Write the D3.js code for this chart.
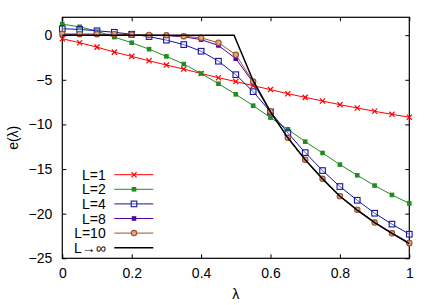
<!DOCTYPE html>
<html>
<head>
<meta charset="utf-8">
<script src="https://cdn.jsdelivr.net/npm/d3@7"></script>
<style>
  body { margin: 0; background: #fff; }
  text { font-family: "Liberation Sans", Arial, sans-serif; }
</style>
</head>
<body>
<svg id="chart" width="436" height="305"></svg>
<script>
// lambda grid, values
var lambdas = [0,0.05,0.1,0.15,0.2,0.25,0.3,0.35,0.4,0.45,0.5,0.55,0.6,0.65,0.7,0.75,0.8,0.85,0.9,0.95,1];
var eL1 = [-0.4,-0.85,-1.34,-1.9,-2.38,-2.87,-3.35,-3.8,-4.3,-4.77,-5.2,-5.66,-6.1,-6.56,-6.97,-7.38,-7.79,-8.16,-8.53,-8.87,-9.2];
var eL2 = [1.23,0.94,0.45,-0.22,-0.85,-1.57,-2.38,-3.24,-4.3,-5.44,-6.63,-7.9,-9.24,-10.55,-11.93,-13.2,-14.5,-15.7,-16.85,-17.9,-18.85];
var eL4 = [0.72,0.64,0.49,0.32,0.1,-0.16,-0.56,-1.06,-1.8,-2.92,-4.43,-6.33,-8.6,-10.95,-13.16,-15.17,-16.96,-18.5,-19.95,-21.17,-22.3];
var eL8 = [0.05,0.04,0.03,0.02,0.0,-0.02,-0.06,-0.18,-0.5,-1.15,-2.64,-5.3,-8.65,-11.5,-13.95,-16.1,-18.0,-19.55,-20.95,-22.15,-23.25];
var eL10 = [0.15,0.14,0.12,0.1,0.06,0.02,-0.02,-0.12,-0.3,-0.85,-2.2,-5.2,-8.55,-11.5,-13.95,-16.1,-18.05,-19.55,-21.0,-22.2,-23.3];
// L -> infinity curve (no markers)
var lambdaInf = [0,0.495,0.55,0.6,0.65,0.7,0.75,0.8,0.85,0.9,0.95,1];
var eInf = [0,0,-5.1,-8.6,-11.5,-13.95,-16.1,-18.05,-19.6,-21.0,-22.2,-23.35];

var xTicks = [0,0.2,0.4,0.6,0.8,1];
var yTicks = [0,-5,-10,-15,-20,-25];

var series = [
	{name:"L=1", color:"#ff0000", mark:"cross", x:lambdas, y:eL1},
	{name:"L=2", color:"#228b22", mark:"fsquare", x:lambdas, y:eL2},
	{name:"L=4", color:"#1414a0", mark:"osquare", x:lambdas, y:eL4},
	{name:"L=8", color:"#5400a0", mark:"fsquare", x:lambdas, y:eL8},
	{name:"L=10", color:"#a0522d", mark:"ocircle", x:lambdas, y:eL10},
	{name:"L\u2192\u221e", color:"#000000", mark:null, x:lambdaInf, y:eInf}
];

var margin = {l:62.3, r:26.7, t:17.3, b:46.7};
var width = 436, height = 305;
var fontSize = 14;

var svg = d3.select("#chart");

var x = d3.scaleLinear().domain([0,1]).range([margin.l, width - margin.r]);
var y = d3.scaleLinear().domain([-25,2]).range([height - margin.b, margin.t]);

// ticks on all four sides, pointing in
var tickLen = 4;
svg.append("g")
	.attr("transform", "translate(0," + (height - margin.b) + ")")
	.call(d3.axisBottom(x).tickValues(xTicks).tickSize(-tickLen).tickPadding(10)
		.tickFormat(function(d){ return d === 0 || d === 1 ? d3.format("d")(d) : d3.format(".1f")(d); }))
	.call(function(g){ g.select(".domain").remove(); })
	.attr("font-size", fontSize + "px");
svg.append("g")
	.attr("transform", "translate(0," + margin.t + ")")
	.call(d3.axisTop(x).tickValues(xTicks).tickSize(-tickLen).tickFormat(""))
	.call(function(g){ g.select(".domain").remove(); });
svg.append("g")
	.attr("transform", "translate(" + margin.l + ",0)")
	.call(d3.axisLeft(y).tickValues(yTicks).tickSize(-tickLen).tickPadding(10))
	.call(function(g){ g.select(".domain").remove(); })
	.attr("font-size", fontSize + "px");
svg.append("g")
	.attr("transform", "translate(" + (width - margin.r) + ",0)")
	.call(d3.axisRight(y).tickValues(yTicks).tickSize(-tickLen).tickFormat(""))
	.call(function(g){ g.select(".domain").remove(); });

svg.selectAll(".tick text").attr("fill", "#000").attr("font-family", "Liberation Sans, Arial, sans-serif");
svg.selectAll(".tick line").attr("stroke", "#000");

// frame
svg.append("rect")
	.attr("x", margin.l).attr("y", margin.t)
	.attr("width", width - margin.l - margin.r)
	.attr("height", height - margin.t - margin.b)
	.attr("fill", "none").attr("stroke", "#000").attr("stroke-width", 1.2);

// axis labels
svg.append("text").text("\u03bb")
	.attr("x", x(0.5)).attr("y", 299)
	.attr("text-anchor", "middle").attr("font-size", fontSize + "px");
svg.append("text").text("e(\u03bb)")
	.attr("transform", "translate(18," + y(-11.5) + ") rotate(-90)")
	.attr("text-anchor", "middle").attr("font-size", fontSize + "px");

function drawMark(g, type, color, cx, cy) {
	var s = 2.6;
	if (type === "cross") {
		g.append("path")
			.attr("d", "M" + (cx-s) + "," + (cy-s) + "L" + (cx+s) + "," + (cy+s) + "M" + (cx-s) + "," + (cy+s) + "L" + (cx+s) + "," + (cy-s))
			.attr("stroke", color).attr("stroke-width", 1.2);
	} else if (type === "fsquare") {
		g.append("rect").attr("x", cx-2.3).attr("y", cy-2.3).attr("width", 4.6).attr("height", 4.6)
			.attr("fill", color);
	} else if (type === "osquare") {
		g.append("rect").attr("x", cx-2.8).attr("y", cy-2.8).attr("width", 5.6).attr("height", 5.6)
			.attr("fill", "#fff").attr("fill-opacity", 0.3).attr("stroke", color).attr("stroke-width", 1.1);
	} else if (type === "ocircle") {
		g.append("circle").attr("cx", cx).attr("cy", cy).attr("r", 2.7)
			.attr("fill", "#d9a88a").attr("stroke", color).attr("stroke-width", 1.1);
	}
}

var line = d3.line()
	.x(function(d){ return x(d[0]); })
	.y(function(d){ return y(d[1]); });

var plot = svg.append("g");
series.forEach(function(s){
	var pts = s.x.map(function(v, i){ return [v, s.y[i]]; });
	plot.append("path")
		.attr("d", line(pts))
		.attr("fill", "none")
		.attr("stroke", s.color)
		.attr("stroke-width", s.mark ? 1 : 1.5);
	if (s.mark) {
		var mg = plot.append("g");
		pts.forEach(function(p){ drawMark(mg, s.mark, s.color, x(p[0]), y(p[1])); });
	}
});

// legend
var leg = svg.append("g");
var legY0 = 174.7, legStep = 14.6;
series.forEach(function(s, i){
	var ly = legY0 + i * legStep;
	leg.append("text").text(s.name)
		.attr("x", 105.7).attr("y", ly + 5)
		.attr("text-anchor", "end").attr("font-size", fontSize + "px");
	leg.append("line")
		.attr("x1", 114.3).attr("x2", 153.3).attr("y1", ly).attr("y2", ly)
		.attr("stroke", s.color).attr("stroke-width", s.mark ? 1 : 1.5);
	if (s.mark) drawMark(leg, s.mark, s.color, 134, ly);
});
</script>
</body>
</html>
